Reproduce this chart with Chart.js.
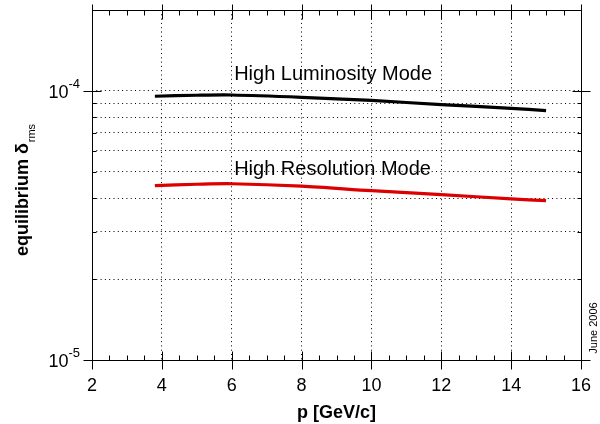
<!DOCTYPE html>
<html>
<head>
<meta charset="utf-8">
<script src="https://cdn.jsdelivr.net/npm/chart.js@4"></script>
<style>
    html, body { margin: 0; padding: 0; background: white; }
    #wrap { width: 600px; height: 424px; }
</style>
</head>
<body>
<div id="wrap"><canvas id="chart" width="600" height="424"></canvas></div>
<script>
// equilibrium delta_rms vs momentum

const momentum = [3.8, 5, 6, 8, 10, 12, 14, 15];
const highLuminosity = [9.56e-5, 9.64e-5, 9.66e-5, 9.47e-5, 9.22e-5, 8.9e-5, 8.62e-5, 8.45e-5];
const highResolution = [4.45e-5, 4.50e-5, 4.52e-5, 4.43e-5, 4.26e-5, 4.12e-5, 3.97e-5, 3.91e-5];

const xTicks = [2, 4, 6, 8, 10, 12, 14, 16];
const yMajor = [1e-5, 1e-4];
const yMinor = [2e-5, 3e-5, 4e-5, 5e-5, 6e-5, 7e-5, 8e-5, 9e-5];
const yMajorLabels = ['-5', '-4'];

const FONT = "'Liberation Sans', Arial, sans-serif";

const framePlugin = {
    id: 'frame',
    afterDraw(chart) {
        const ctx = chart.ctx;
        const area = chart.chartArea;
        const xs = chart.scales.x;
        const ys = chart.scales.y;
        const L = Math.round(area.left) + 0.5;
        const R = Math.round(area.right) + 0.5;
        const T = Math.round(area.top) + 0.5;
        const B = Math.round(area.bottom) + 0.5;

        ctx.save();
        ctx.strokeStyle = '#000';
        ctx.lineWidth = 1;
        ctx.beginPath();
        ctx.rect(L, T, R - L, B - T);

        // x ticks: major crossing the axis, minor inward
        xTicks.forEach(v => {
            const px = Math.round(xs.getPixelForValue(v)) + 0.5;
            ctx.moveTo(px, B - 9); ctx.lineTo(px, B + 9);
            ctx.moveTo(px, T - 6); ctx.lineTo(px, T + 9);
        });
        for (let v = 2.5; v < 16; v += 0.5) {
            if (v % 2 === 0) continue;
            const px = Math.round(xs.getPixelForValue(v)) + 0.5;
            ctx.moveTo(px, B); ctx.lineTo(px, B - 5);
            ctx.moveTo(px, T); ctx.lineTo(px, T + 5);
        }
        // y ticks
        yMajor.forEach(v => {
            const py = Math.round(ys.getPixelForValue(v)) + 0.5;
            ctx.moveTo(L - 9, py); ctx.lineTo(L + 9, py);
            ctx.moveTo(R - 9, py); ctx.lineTo(R + 9, py);
        });
        yMinor.forEach(v => {
            const py = Math.round(ys.getPixelForValue(v)) + 0.5;
            ctx.moveTo(L, py); ctx.lineTo(L + 4, py);
            ctx.moveTo(R, py); ctx.lineTo(R - 4, py);
        });
        ctx.stroke();

        ctx.fillStyle = '#000';
        // x tick labels
        ctx.font = '18px ' + FONT;
        ctx.textAlign = 'center';
        ctx.textBaseline = 'alphabetic';
        xTicks.forEach(v => {
            ctx.fillText(String(v), xs.getPixelForValue(v), B + 30);
        });

        // y tick labels 10^n
        yMajor.forEach((v, i) => {
            const py = ys.getPixelForValue(v);
            ctx.font = '13px ' + FONT;
            ctx.textAlign = 'right';
            const supW = ctx.measureText(yMajorLabels[i]).width;
            ctx.fillText(yMajorLabels[i], 80, py - 3);
            ctx.font = '18px ' + FONT;
            ctx.fillText('10', 80 - supW, py + 7);
        });

        // axis titles
        ctx.font = 'bold 18px ' + FONT;
        ctx.textAlign = 'center';
        ctx.fillText('p [GeV/c]', (area.left + area.right) / 2, 418);

        ctx.save();
        ctx.translate(28, 190);
        ctx.rotate(-Math.PI / 2);
        const main = 'equilibrium \u03b4';
        ctx.font = '11px ' + FONT;
        const subW = ctx.measureText('rms').width;
        ctx.font = 'bold 18px ' + FONT;
        const mainW = ctx.measureText(main).width;
        const start = -(mainW + subW + 1) / 2;
        ctx.textAlign = 'left';
        ctx.fillText(main, start, 0);
        ctx.font = '11px ' + FONT;
        ctx.fillText('rms', start + mainW + 1, 7);
        ctx.restore();

        // date stamp
        ctx.save();
        ctx.translate(597, 328);
        ctx.rotate(-Math.PI / 2);
        ctx.font = '11px ' + FONT;
        ctx.textAlign = 'center';
        ctx.fillText('June 2006', 0, 0);
        ctx.restore();

        // curve labels
        ctx.font = '20px ' + FONT;
        ctx.textAlign = 'left';
        ctx.fillText('High Luminosity Mode', xs.getPixelForValue(6.07), ys.getPixelForValue(1.1e-4));
        ctx.fillText('High Resolution Mode', xs.getPixelForValue(6.07), ys.getPixelForValue(4.89e-5));
        ctx.restore();
    }
};

const gridStyle = {
    color: '#000',
    lineWidth: 1,
    drawTicks: false,
    tickLength: 0
};

new Chart(document.getElementById('chart').getContext('2d'), {
    type: 'line',
    data: {
        datasets: [
            {
                label: 'High Luminosity Mode',
                data: momentum.map((p, i) => ({ x: p, y: highLuminosity[i] })),
                borderColor: '#000000',
                borderWidth: 3.2,
                pointRadius: 0,
                tension: 0.3
            },
            {
                label: 'High Resolution Mode',
                data: momentum.map((p, i) => ({ x: p, y: highResolution[i] })),
                borderColor: '#dd0000',
                borderWidth: 3.2,
                pointRadius: 0,
                tension: 0.3
            }
        ]
    },
    options: {
        responsive: false,
        animation: false,
        layout: { padding: { left: 0, top: 10, right: 19, bottom: 64 } },
        plugins: {
            legend: { display: false },
            tooltip: { enabled: false }
        },
        scales: {
            x: {
                type: 'linear',
                min: 2,
                max: 16,
                afterBuildTicks: scale => { scale.ticks = xTicks.map(v => ({ value: v })); },
                afterFit: scale => { scale.height = 0; },
                ticks: { display: false },
                grid: gridStyle,
                border: { display: false, dash: [1, 3.3] }
            },
            y: {
                type: 'logarithmic',
                min: 1e-5,
                max: 2e-4,
                afterBuildTicks: scale => {
                    scale.ticks = [...yMinor, ...yMajor].map(v => ({ value: v }));
                },
                afterFit: scale => { scale.width = 92; },
                ticks: { display: false },
                grid: gridStyle,
                border: { display: false, dash: [1, 3.3] }
            }
        }
    },
    plugins: [framePlugin]
});
</script>
</body>
</html>
